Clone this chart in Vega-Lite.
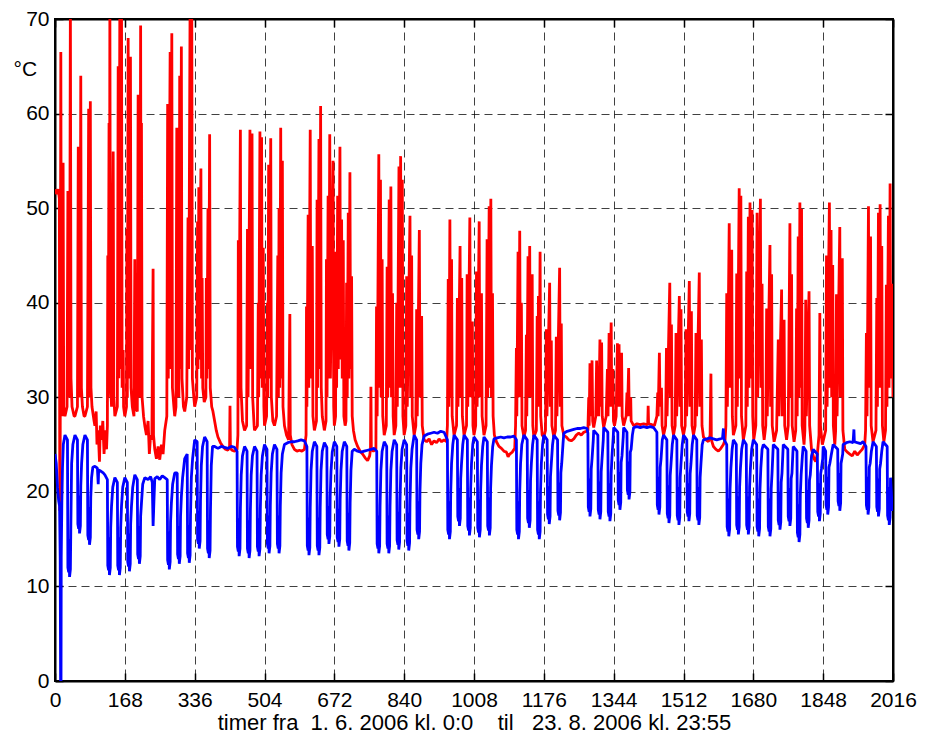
{
"$schema": "https://vega.github.io/schema/vega-lite/v6.json",
"width": 838, "height": 662,
"autosize": {"type": "none"},
"padding": {"left": 55, "top": 19, "right": 35, "bottom": 57},
"background": "white",
"config": {"view": {"stroke": "black", "strokeWidth": 2}, "font": "Liberation Sans"},
"datasets": {
"red": [
{"t":0,"v":52},{"t":4,"v":51.5},{"t":8,"v":52},{"t":10.5,"v":51},{"t":11.5,"v":18},{"t":12.5,"v":24},{"t":14,"v":66.5},{"t":15.5,"v":30},{"t":17,"v":28},{"t":19.5,"v":54.8},{"t":21,"v":29},{"t":24,"v":28},
{"t":29,"v":29},{"t":31,"v":51.8},{"t":32.5,"v":31},{"t":35,"v":30},{"t":37,"v":72},{"t":38.5,"v":32},{"t":41,"v":29},{"t":46,"v":28},
{"t":48,"v":28},{"t":54,"v":29},{"t":56,"v":56.5},{"t":57.5,"v":31},{"t":60,"v":30},{"t":62,"v":64},{"t":63.5,"v":31},{"t":66,"v":29},{"t":70,"v":28},
{"t":72,"v":28},{"t":78,"v":29},{"t":81,"v":60.5},{"t":82.5,"v":32},{"t":84,"v":30},{"t":85,"v":61.3},{"t":86.5,"v":31},{"t":89,"v":29},{"t":94,"v":27.5},
{"t":96,"v":27},{"t":99,"v":28.5},{"t":101,"v":25},{"t":104,"v":26.5},{"t":107,"v":23.2},{"t":109,"v":27},{"t":112,"v":25.5},{"t":115,"v":27.5},{"t":118,"v":24},{"t":121,"v":26.5},{"t":124,"v":24.5},
{"t":126,"v":27},{"t":127,"v":45},{"t":128,"v":30},{"t":130,"v":59},{"t":131,"v":33},{"t":132,"v":72},{"t":133.5,"v":32},{"t":136,"v":29},{"t":140,"v":56},{"t":141.5,"v":30},{"t":144,"v":28},
{"t":150,"v":29},{"t":152,"v":65},{"t":153.5,"v":32},{"t":156,"v":72},{"t":157.5,"v":33},{"t":160,"v":72},{"t":161.5,"v":31},{"t":164,"v":35},{"t":165,"v":29},{"t":168,"v":28},
{"t":172,"v":29},{"t":173,"v":47.8},{"t":174,"v":30},{"t":176,"v":68},{"t":177.5,"v":32},{"t":181.5,"v":66},{"t":183,"v":31},{"t":186,"v":29},{"t":190,"v":28},
{"t":192,"v":44.6},{"t":193,"v":29},{"t":198,"v":28.5},{"t":200,"v":62},{"t":201.5,"v":31},{"t":204,"v":30},{"t":206,"v":69.3},{"t":207,"v":38},{"t":208,"v":59},{"t":209.5,"v":30},{"t":213,"v":28},{"t":216,"v":27},
{"t":220,"v":26},{"t":224,"v":27.5},{"t":227,"v":24},{"t":230,"v":26},{"t":233,"v":25.5},{"t":236,"v":43.6},{"t":237,"v":26},{"t":240,"v":24.5},
{"t":244,"v":23.5},{"t":248,"v":24.8},{"t":252,"v":23.4},{"t":256,"v":25},{"t":260,"v":24},{"t":264,"v":26.5},
{"t":269,"v":28},{"t":271,"v":61},{"t":272.5,"v":32},{"t":277,"v":66.5},{"t":278.5,"v":33},{"t":281,"v":68.5},{"t":282.5,"v":31},{"t":286,"v":29},{"t":288,"v":28},
{"t":291,"v":29},{"t":293,"v":58.5},{"t":294.5,"v":32},{"t":298,"v":30},{"t":300,"v":64},{"t":301.5,"v":33},{"t":304,"v":67.1},{"t":305.5,"v":32},{"t":309,"v":29},{"t":312,"v":28.5},
{"t":317,"v":30},{"t":320,"v":49},{"t":321.5,"v":33},{"t":325,"v":72},{"t":326.5,"v":35},{"t":329,"v":72},{"t":330.5,"v":32},{"t":334,"v":30},{"t":336,"v":29},
{"t":341,"v":30},{"t":343,"v":48.6},{"t":344,"v":33},{"t":346,"v":52.2},{"t":347,"v":34},{"t":351,"v":54.2},{"t":352.5,"v":32},{"t":354,"v":42.6},{"t":355.5,"v":31},{"t":359,"v":29.5},
{"t":363,"v":30},{"t":364,"v":42.6},{"t":365.5,"v":32},{"t":368,"v":50},{"t":369.5,"v":33},{"t":372,"v":57.8},{"t":373.5,"v":31},{"t":377,"v":29},{"t":380,"v":28.5},
{"t":384,"v":27.5},{"t":388,"v":26.5},{"t":392,"v":25.8},{"t":398,"v":25.2},{"t":404,"v":24.8},{"t":410,"v":24.5},{"t":416,"v":24.4},{"t":420,"v":24.8},{"t":421,"v":29.1},{"t":422,"v":24.6},{"t":426,"v":24.4},{"t":432,"v":24.3},{"t":438,"v":24.5},
{"t":440,"v":26},{"t":441,"v":46.6},{"t":442,"v":30},{"t":446,"v":58.3},{"t":447.5,"v":31},{"t":451,"v":27.5},{"t":456,"v":26.5},
{"t":461,"v":27},{"t":463,"v":47.8},{"t":464.5,"v":30},{"t":469,"v":58.3},{"t":470.5,"v":33},{"t":474,"v":57.9},{"t":475.5,"v":30},{"t":479,"v":27},{"t":480,"v":26.5},
{"t":487,"v":27},{"t":489,"v":40},{"t":490,"v":30},{"t":493,"v":58.1},{"t":494.5,"v":32},{"t":497,"v":57.5},{"t":498.5,"v":31},{"t":501,"v":45.8},{"t":502.5,"v":29},{"t":504,"v":27},
{"t":509,"v":28},{"t":511,"v":40},{"t":512,"v":30},{"t":514,"v":54.6},{"t":515.5,"v":32},{"t":519,"v":57.4},{"t":520.5,"v":30},{"t":524,"v":27.5},{"t":528,"v":27},
{"t":533,"v":28},{"t":536,"v":45},{"t":537.5,"v":30},{"t":539,"v":50},{"t":540.5,"v":31},{"t":543,"v":58.5},{"t":544.5,"v":32},{"t":547,"v":55},{"t":548.5,"v":29},{"t":552,"v":27},
{"t":557,"v":26},{"t":562,"v":25.5},{"t":565,"v":38.8},{"t":566,"v":26},{"t":570,"v":25},{"t":576,"v":24.5},
{"t":582,"v":24.3},{"t":588,"v":24.4},{"t":594,"v":24.3},{"t":600,"v":24.5},
{"t":604,"v":26},{"t":605,"v":39.6},{"t":606,"v":29},{"t":609,"v":49.3},{"t":610.5,"v":31},{"t":614,"v":58.3},{"t":615.5,"v":32},{"t":619,"v":46},{"t":620.5,"v":28},{"t":624,"v":26.5},
{"t":629,"v":27.5},{"t":630.5,"v":50.9},{"t":632,"v":31},{"t":635,"v":57.3},{"t":636.5,"v":33},{"t":639,"v":60.8},{"t":640.5,"v":31},{"t":643,"v":28},{"t":648,"v":26.5},
{"t":652,"v":27.5},{"t":653,"v":44.6},{"t":654.5,"v":30},{"t":657,"v":51.3},{"t":658.5,"v":32},{"t":661,"v":57.8},{"t":662.5,"v":32},{"t":669,"v":55},{"t":670.5,"v":29},{"t":672,"v":27},
{"t":675,"v":28},{"t":676,"v":45.4},{"t":677.5,"v":31},{"t":680,"v":51.3},{"t":681.5,"v":33},{"t":685.5,"v":56.5},{"t":687,"v":34},{"t":689.5,"v":48.8},{"t":691,"v":32},{"t":693.5,"v":46.6},{"t":695,"v":28},{"t":698,"v":27},
{"t":700,"v":27.5},{"t":701.5,"v":42.1},{"t":703,"v":30},{"t":705.5,"v":49.5},{"t":707,"v":32},{"t":709.5,"v":53.8},{"t":711,"v":33},{"t":713.5,"v":42.8},{"t":715,"v":28},{"t":718,"v":26.5},
{"t":722,"v":25.5},{"t":728,"v":24.8},{"t":734,"v":24.3},{"t":740,"v":24},{"t":746,"v":23.6},{"t":752,"v":23.3},{"t":757,"v":23.8},{"t":759,"v":24.5},{"t":760,"v":31.1},{"t":761,"v":24.5},{"t":766,"v":24.3},{"t":772,"v":24.5},
{"t":773.5,"v":39.6},{"t":775,"v":28},{"t":779,"v":55.7},{"t":780.5,"v":31},{"t":783,"v":53},{"t":784.5,"v":30},{"t":787,"v":44.6},{"t":788.5,"v":28},{"t":792,"v":26},
{"t":797,"v":27},{"t":799,"v":43.8},{"t":800.5,"v":30},{"t":804,"v":50.9},{"t":805.5,"v":31},{"t":808,"v":52.3},{"t":809.5,"v":30},{"t":812,"v":41},{"t":813.5,"v":28},{"t":816,"v":26},
{"t":820,"v":27},{"t":822,"v":40},{"t":823.5,"v":29},{"t":827.5,"v":54.4},{"t":829,"v":31},{"t":831.5,"v":55.5},{"t":833,"v":31},{"t":835.5,"v":53},{"t":837,"v":28},{"t":840,"v":26},
{"t":844,"v":27},{"t":846,"v":42.8},{"t":847.5,"v":29},{"t":854,"v":49.2},{"t":855.5,"v":30},{"t":858,"v":45},{"t":859.5,"v":28},{"t":864,"v":26},
{"t":868,"v":27},{"t":870,"v":39.3},{"t":871.5,"v":28},{"t":876.5,"v":47.7},{"t":878,"v":30},{"t":882,"v":38.6},{"t":883.5,"v":27},{"t":888,"v":25.5},
{"t":894,"v":25.3},{"t":900,"v":25.6},{"t":906,"v":25},{"t":912,"v":25.4},{"t":918,"v":25.2},{"t":924,"v":25.6},{"t":930,"v":25.3},{"t":936,"v":25.5},{"t":942,"v":25.3},
{"t":944,"v":27},{"t":946,"v":42.5},{"t":947.5,"v":29},{"t":950,"v":48.8},{"t":951.5,"v":30},{"t":954,"v":44.6},{"t":955.5,"v":28},{"t":960,"v":26},
{"t":966,"v":27},{"t":968,"v":40.5},{"t":969.5,"v":29},{"t":974.5,"v":46},{"t":976,"v":30},{"t":978.5,"v":42.6},{"t":980,"v":28},{"t":984,"v":26},
{"t":990,"v":27},{"t":991.5,"v":43},{"t":993,"v":29},{"t":998,"v":49},{"t":999.5,"v":30},{"t":1004,"v":38},{"t":1005.5,"v":27},{"t":1008,"v":26},
{"t":1012,"v":27},{"t":1014,"v":43.3},{"t":1015.5,"v":29},{"t":1020.5,"v":48.6},{"t":1022,"v":30},{"t":1026,"v":41},{"t":1027.5,"v":28},{"t":1032,"v":26},
{"t":1037,"v":27},{"t":1039.5,"v":46.7},{"t":1041,"v":30},{"t":1044.5,"v":50.2},{"t":1046,"v":31},{"t":1048.5,"v":51},{"t":1050,"v":30},{"t":1052.5,"v":41},{"t":1054,"v":28},{"t":1057,"v":26},
{"t":1062,"v":25.3},{"t":1068,"v":24.8},{"t":1074,"v":24.6},{"t":1080,"v":24.3},{"t":1086,"v":24.2},{"t":1090,"v":23.7},{"t":1094,"v":24},{"t":1100,"v":24.2},{"t":1106,"v":24.6},
{"t":1108,"v":27},{"t":1110,"v":35.2},{"t":1111,"v":28},{"t":1114,"v":45.4},{"t":1115.5,"v":30},{"t":1118,"v":47.6},{"t":1119.5,"v":30},{"t":1122,"v":40},{"t":1123.5,"v":27},{"t":1128,"v":25.8},
{"t":1132,"v":26.5},{"t":1134,"v":36.6},{"t":1135,"v":28},{"t":1138,"v":44.9},{"t":1139.5,"v":30},{"t":1142,"v":46},{"t":1143.5,"v":30},{"t":1148,"v":43},{"t":1149.5,"v":27},{"t":1152,"v":25.8},
{"t":1158,"v":26.5},{"t":1160,"v":38.6},{"t":1161.5,"v":29},{"t":1163,"v":40.7},{"t":1164.5,"v":29},{"t":1167,"v":45.4},{"t":1168.5,"v":28},{"t":1172,"v":26},{"t":1176,"v":25.8},
{"t":1180,"v":26.5},{"t":1182,"v":37.2},{"t":1183.5,"v":28},{"t":1190,"v":42.1},{"t":1191.5,"v":29},{"t":1194,"v":36},{"t":1195.5,"v":27},{"t":1200,"v":25.8},
{"t":1204,"v":26.5},{"t":1206,"v":36.4},{"t":1207.5,"v":28},{"t":1214,"v":43.7},{"t":1215.5,"v":29},{"t":1218,"v":37.8},{"t":1219.5,"v":27},{"t":1224,"v":26},
{"t":1230,"v":25.8},{"t":1236,"v":25.5},{"t":1242,"v":25.4},{"t":1248,"v":25.6},{"t":1254,"v":26},{"t":1260,"v":26.2},{"t":1266,"v":26},{"t":1272,"v":26.3},{"t":1278,"v":26.4},{"t":1282,"v":26.5},
{"t":1284,"v":30},{"t":1285,"v":27},{"t":1287,"v":33.6},{"t":1288.5,"v":28},{"t":1292,"v":33.9},{"t":1293.5,"v":27.5},{"t":1296,"v":26.8},
{"t":1301,"v":28},{"t":1303,"v":33.9},{"t":1304.5,"v":28},{"t":1307,"v":30.5},{"t":1308,"v":28},{"t":1311,"v":36.1},{"t":1312.5,"v":29},{"t":1315,"v":35.8},{"t":1316.5,"v":28},{"t":1320,"v":26.8},
{"t":1326,"v":28},{"t":1329,"v":33},{"t":1330.5,"v":28},{"t":1333,"v":36.8},{"t":1334.5,"v":29},{"t":1338,"v":37.9},{"t":1339.5,"v":29},{"t":1342,"v":33},{"t":1343.5,"v":27.5},{"t":1346,"v":27},
{"t":1350,"v":28},{"t":1353,"v":35.7},{"t":1354.5,"v":29},{"t":1357,"v":35.6},{"t":1358.5,"v":29},{"t":1363,"v":34.7},{"t":1364.5,"v":28},{"t":1368,"v":27},
{"t":1374,"v":28},{"t":1376,"v":30.5},{"t":1377,"v":28},{"t":1380,"v":33.1},{"t":1381.5,"v":28},{"t":1385,"v":30},{"t":1386,"v":27.5},{"t":1392,"v":27},
{"t":1400,"v":27.2},{"t":1408,"v":27.1},{"t":1416,"v":27.2},{"t":1424,"v":27.1},{"t":1426,"v":27.2},{"t":1427,"v":29.1},{"t":1428,"v":27.2},{"t":1436,"v":27.1},{"t":1442,"v":27},
{"t":1448,"v":28},{"t":1450,"v":30.5},{"t":1451,"v":28},{"t":1454,"v":34.7},{"t":1455.5,"v":29},{"t":1459,"v":31},{"t":1460.5,"v":27},{"t":1464,"v":26},
{"t":1469,"v":27},{"t":1471,"v":35.2},{"t":1472.5,"v":28},{"t":1479,"v":42.1},{"t":1480.5,"v":30},{"t":1483,"v":37.7},{"t":1484.5,"v":27},{"t":1488,"v":26},
{"t":1492,"v":27},{"t":1494,"v":36.8},{"t":1495.5,"v":28},{"t":1502,"v":40.7},{"t":1503.5,"v":29},{"t":1506,"v":39.3},{"t":1507.5,"v":27},{"t":1512,"v":26},
{"t":1516,"v":27},{"t":1518,"v":37.2},{"t":1519.5,"v":28},{"t":1526,"v":42.3},{"t":1527.5,"v":29},{"t":1531,"v":39.1},{"t":1532.5,"v":27},{"t":1536,"v":26},
{"t":1540,"v":27},{"t":1542,"v":36.8},{"t":1543.5,"v":28},{"t":1550,"v":43.2},{"t":1551.5,"v":29},{"t":1555,"v":36.1},{"t":1556.5,"v":27},{"t":1560,"v":25.8},
{"t":1566,"v":25.5},{"t":1572,"v":25.3},{"t":1576,"v":26},{"t":1578,"v":32.5},{"t":1579,"v":25.5},{"t":1584,"v":24.8},{"t":1590,"v":24.5},{"t":1596,"v":24.3},{"t":1602,"v":24.6},{"t":1608,"v":25},{"t":1612,"v":25.5},
{"t":1614,"v":27},{"t":1616,"v":41},{"t":1617.5,"v":29},{"t":1622,"v":48.4},{"t":1623.5,"v":31},{"t":1628,"v":45.6},{"t":1629.5,"v":28},{"t":1632,"v":26},
{"t":1638,"v":27},{"t":1640,"v":43.1},{"t":1641.5,"v":29},{"t":1646,"v":52.1},{"t":1647.5,"v":32},{"t":1650,"v":51.3},{"t":1651.5,"v":28},{"t":1656,"v":25.5},
{"t":1662,"v":27},{"t":1664,"v":43.3},{"t":1665.5,"v":29},{"t":1668,"v":49.1},{"t":1669.5,"v":31},{"t":1672,"v":50.6},{"t":1673.5,"v":32},{"t":1677,"v":49.8},{"t":1678.5,"v":28},{"t":1681,"v":25.5},
{"t":1686,"v":27},{"t":1689,"v":49.5},{"t":1690.5,"v":30},{"t":1697,"v":51},{"t":1698.5,"v":31},{"t":1701,"v":42},{"t":1702.5,"v":27},{"t":1706,"v":25.5},
{"t":1710,"v":27},{"t":1712,"v":39.4},{"t":1713.5,"v":28},{"t":1720,"v":46.1},{"t":1721.5,"v":29},{"t":1724,"v":43},{"t":1725.5,"v":27},{"t":1730,"v":25.3},
{"t":1736,"v":26.5},{"t":1740,"v":36.1},{"t":1741.5,"v":28},{"t":1748,"v":41.4},{"t":1749.5,"v":28},{"t":1754,"v":38.2},{"t":1755.5,"v":27},{"t":1760,"v":25.5},
{"t":1764,"v":27},{"t":1768,"v":48.4},{"t":1769.5,"v":30},{"t":1772,"v":43},{"t":1773.5,"v":27},{"t":1778,"v":25.3},
{"t":1782,"v":26.5},{"t":1784,"v":39.4},{"t":1785.5,"v":28},{"t":1788,"v":47},{"t":1789.5,"v":30},{"t":1792,"v":50.6},{"t":1793.5,"v":31},{"t":1796,"v":49.9},{"t":1797.5,"v":27},{"t":1802,"v":25},
{"t":1804,"v":26.5},{"t":1806,"v":40.3},{"t":1807.5,"v":28},{"t":1814,"v":41.2},{"t":1815.5,"v":27},{"t":1820,"v":24.5},
{"t":1826,"v":23.5},{"t":1830,"v":23.2},{"t":1834,"v":24},{"t":1838,"v":26},{"t":1840,"v":38.9},{"t":1841.5,"v":27},{"t":1846,"v":25},
{"t":1854,"v":26.5},{"t":1856,"v":45},{"t":1857.5,"v":29},{"t":1863,"v":50.6},{"t":1864.5,"v":31},{"t":1867,"v":47.7},{"t":1868.5,"v":30},{"t":1871,"v":44},{"t":1872.5,"v":27},{"t":1876,"v":25},
{"t":1878,"v":26.5},{"t":1880,"v":40.9},{"t":1881.5,"v":28},{"t":1888,"v":48},{"t":1889.5,"v":30},{"t":1894,"v":44.7},{"t":1895.5,"v":26.5},{"t":1900,"v":24.5},
{"t":1906,"v":24.2},{"t":1912,"v":24},{"t":1918,"v":23.8},{"t":1924,"v":24.3},{"t":1930,"v":23.9},{"t":1936,"v":24.2},{"t":1942,"v":24.5},{"t":1948,"v":25},
{"t":1950,"v":26.5},{"t":1952,"v":36.8},{"t":1953.5,"v":28},{"t":1957,"v":50.2},{"t":1958.5,"v":31},{"t":1962,"v":47},{"t":1963.5,"v":27},{"t":1968,"v":25.3},
{"t":1975,"v":26.5},{"t":1977,"v":40.5},{"t":1978.5,"v":29},{"t":1981,"v":49.5},{"t":1982.5,"v":31},{"t":1985,"v":50.4},{"t":1986.5,"v":31},{"t":1989,"v":46},{"t":1990.5,"v":27},{"t":1994,"v":25.3},
{"t":1998,"v":26.5},{"t":2000,"v":41.9},{"t":2001.5,"v":29},{"t":2005,"v":49.2},{"t":2006.5,"v":31},{"t":2009,"v":52.6},{"t":2010.5,"v":32},{"t":2014,"v":42},{"t":2016,"v":30}
],
"blue": [
{"t":0,"v":24},{"t":3,"v":23},{"t":6,"v":20.5},{"t":9,"v":19},{"t":11,"v":18.5},{"t":12.5,"v":13},{"t":13.5,"v":0},{"t":14.5,"v":0},{"t":15,"v":13},{"t":16.5,"v":19},{"t":18,"v":22.5},{"t":20,"v":25},{"t":22,"v":25.5},
{"t":24,"v":26},{"t":30,"v":25.5},{"t":31,"v":12},{"t":33,"v":11.5},{"t":34,"v":15},{"t":35,"v":11},{"t":37,"v":11.8},{"t":38,"v":16},{"t":40,"v":23},{"t":43,"v":25},
{"t":48,"v":26},{"t":54,"v":25.5},{"t":55,"v":16.6},{"t":57,"v":16.1},{"t":58,"v":19.6},{"t":59,"v":15.6},{"t":61,"v":16.4},{"t":62,"v":20.6},{"t":64,"v":23},{"t":67,"v":25},
{"t":72,"v":26},{"t":78,"v":25.5},{"t":79,"v":15.4},{"t":81,"v":14.9},{"t":82,"v":18.4},{"t":83,"v":14.4},{"t":85,"v":15.2},{"t":86,"v":19.4},{"t":88,"v":21.5},{"t":91,"v":22.6},
{"t":96,"v":22.7},{"t":102,"v":22.5},{"t":104,"v":20.8},{"t":105,"v":22.3},{"t":110,"v":22.2},{"t":116,"v":22},{"t":120,"v":21.8},
{"t":126,"v":21.3},{"t":127,"v":12.2},{"t":129,"v":11.7},{"t":130,"v":15.2},{"t":131,"v":11.2},{"t":133,"v":12},{"t":134,"v":16.2},{"t":136,"v":18.5},{"t":139,"v":20.5},
{"t":144,"v":21.5},{"t":150,"v":21},{"t":151,"v":12.2},{"t":153,"v":11.7},{"t":154,"v":15.2},{"t":155,"v":11.2},{"t":157,"v":12},{"t":158,"v":16.2},{"t":160,"v":18.5},{"t":163,"v":20.5},
{"t":168,"v":21.5},{"t":174,"v":21},{"t":175,"v":12.6},{"t":177,"v":12.1},{"t":178,"v":15.6},{"t":179,"v":11.6},{"t":181,"v":12.4},{"t":182,"v":16.6},{"t":184,"v":18.5},{"t":187,"v":20.5},
{"t":192,"v":21.8},{"t":198,"v":21.3},{"t":199,"v":13.4},{"t":201,"v":12.9},{"t":202,"v":16.4},{"t":203,"v":12.4},{"t":205,"v":13.2},{"t":206,"v":17.4},{"t":208,"v":18.8},{"t":211,"v":20.8},
{"t":216,"v":21.5},{"t":224,"v":21.3},{"t":230,"v":21.6},{"t":234,"v":21},{"t":236,"v":16.4},{"t":238,"v":19},{"t":240,"v":21.4},{"t":246,"v":21.6},{"t":252,"v":21.3},{"t":258,"v":21.7},{"t":264,"v":21.5},
{"t":270,"v":21.3},{"t":271,"v":12.8},{"t":273,"v":12.3},{"t":274,"v":15.8},{"t":275,"v":11.8},{"t":277,"v":12.6},{"t":278,"v":16.8},{"t":280,"v":18.8},{"t":283,"v":20.8},
{"t":288,"v":22},{"t":294,"v":22},{"t":295,"v":13.4},{"t":297,"v":12.9},{"t":298,"v":16.4},{"t":299,"v":12.4},{"t":301,"v":13.2},{"t":302,"v":17.4},{"t":304,"v":19.5},{"t":307,"v":21.5},
{"t":312,"v":23.5},{"t":318,"v":24},{"t":319,"v":13.5},{"t":321,"v":13},{"t":322,"v":16.5},{"t":323,"v":12.5},{"t":325,"v":13.3},{"t":326,"v":17.5},{"t":328,"v":21.5},{"t":331,"v":23.5},
{"t":336,"v":25.5},{"t":342,"v":25.3},{"t":343,"v":15},{"t":345,"v":14.5},{"t":346,"v":18},{"t":347,"v":14},{"t":349,"v":14.8},{"t":350,"v":19},{"t":352,"v":22.8},{"t":355,"v":24.8},
{"t":360,"v":25.8},{"t":366,"v":25.3},{"t":367,"v":14},{"t":369,"v":13.5},{"t":370,"v":17},{"t":371,"v":13},{"t":373,"v":13.8},{"t":374,"v":18},{"t":376,"v":22.8},{"t":379,"v":24.8},
{"t":384,"v":24.8},{"t":392,"v":24.6},{"t":400,"v":24.8},{"t":408,"v":24.7},{"t":416,"v":24.6},{"t":424,"v":24.8},{"t":432,"v":24.7},
{"t":438,"v":24.3},{"t":439,"v":14.2},{"t":441,"v":13.7},{"t":442,"v":17.2},{"t":443,"v":13.2},{"t":445,"v":14},{"t":446,"v":18.2},{"t":448,"v":21.8},{"t":451,"v":23.8},
{"t":456,"v":24.8},{"t":462,"v":24.3},{"t":463,"v":14},{"t":465,"v":13.5},{"t":466,"v":17},{"t":467,"v":13},{"t":469,"v":13.8},{"t":470,"v":18},{"t":472,"v":21.8},{"t":475,"v":23.8},
{"t":480,"v":24.8},{"t":486,"v":24.3},{"t":487,"v":14.2},{"t":489,"v":13.7},{"t":490,"v":17.2},{"t":491,"v":13.2},{"t":493,"v":14},{"t":494,"v":18.2},{"t":496,"v":21.8},{"t":499,"v":23.8},
{"t":504,"v":25},{"t":510,"v":24.5},{"t":511,"v":14.5},{"t":513,"v":14},{"t":514,"v":17.5},{"t":515,"v":13.5},{"t":517,"v":14.3},{"t":518,"v":18.5},{"t":520,"v":22},{"t":523,"v":24},
{"t":528,"v":25},{"t":534,"v":24.5},{"t":535,"v":14.5},{"t":537,"v":14},{"t":538,"v":17.5},{"t":539,"v":13.5},{"t":541,"v":14.3},{"t":542,"v":18.5},{"t":544,"v":22},{"t":547,"v":24},
{"t":552,"v":25},{"t":560,"v":25.2},{"t":568,"v":25.3},{"t":576,"v":25.3},{"t":584,"v":25.4},{"t":592,"v":25.5},{"t":600,"v":25.4},
{"t":606,"v":24.8},{"t":607,"v":14.3},{"t":609,"v":13.8},{"t":610,"v":17.3},{"t":611,"v":13.3},{"t":613,"v":14.1},{"t":614,"v":18.3},{"t":616,"v":22.3},{"t":619,"v":24.3},
{"t":624,"v":25.3},{"t":630,"v":24.8},{"t":631,"v":14.3},{"t":633,"v":13.8},{"t":634,"v":17.3},{"t":635,"v":13.3},{"t":637,"v":14.1},{"t":638,"v":18.3},{"t":640,"v":22.3},{"t":643,"v":24.3},
{"t":648,"v":25.2},{"t":654,"v":24.7},{"t":655,"v":15.5},{"t":657,"v":15},{"t":658,"v":18.5},{"t":659,"v":14.5},{"t":661,"v":15.3},{"t":662,"v":19.5},{"t":664,"v":22.2},{"t":667,"v":24.2},
{"t":672,"v":25.3},{"t":678,"v":24.8},{"t":679,"v":15.2},{"t":681,"v":14.7},{"t":682,"v":18.2},{"t":683,"v":14.2},{"t":685,"v":15},{"t":686,"v":19.2},{"t":688,"v":22.3},{"t":691,"v":24.3},
{"t":696,"v":25.3},{"t":702,"v":24.8},{"t":703,"v":14.8},{"t":705,"v":14.3},{"t":706,"v":17.8},{"t":707,"v":13.8},{"t":709,"v":14.6},{"t":710,"v":18.8},{"t":712,"v":22.3},{"t":715,"v":24.3},
{"t":720,"v":24.5},{"t":728,"v":24.3},{"t":736,"v":24.2},{"t":744,"v":24.3},{"t":752,"v":24.4},{"t":760,"v":24.5},{"t":768,"v":24.6},
{"t":774,"v":24.3},{"t":775,"v":14.5},{"t":777,"v":14},{"t":778,"v":17.5},{"t":779,"v":13.5},{"t":781,"v":14.3},{"t":782,"v":18.5},{"t":784,"v":22.3},{"t":787,"v":24.3},
{"t":792,"v":25.3},{"t":798,"v":24.8},{"t":799,"v":14.5},{"t":801,"v":14},{"t":802,"v":17.5},{"t":803,"v":13.5},{"t":805,"v":14.3},{"t":806,"v":18.5},{"t":808,"v":22.3},{"t":811,"v":24.3},
{"t":816,"v":25.5},{"t":822,"v":25},{"t":823,"v":14.9},{"t":825,"v":14.4},{"t":826,"v":17.9},{"t":827,"v":13.9},{"t":829,"v":14.7},{"t":830,"v":18.9},{"t":832,"v":22.5},{"t":835,"v":24.5},
{"t":840,"v":25.5},{"t":846,"v":25},{"t":847,"v":14.8},{"t":849,"v":14.3},{"t":850,"v":17.8},{"t":851,"v":13.8},{"t":853,"v":14.6},{"t":854,"v":18.8},{"t":856,"v":22.5},{"t":859,"v":24.5},
{"t":864,"v":26},{"t":870,"v":25.5},{"t":871,"v":16},{"t":873,"v":15.5},{"t":874,"v":19},{"t":875,"v":15},{"t":877,"v":15.8},{"t":878,"v":20},{"t":880,"v":23},{"t":883,"v":25},
{"t":888,"v":25.9},{"t":896,"v":26.1},{"t":904,"v":26.2},{"t":912,"v":26.3},{"t":920,"v":26.2},{"t":928,"v":26.4},{"t":936,"v":26.3},
{"t":944,"v":25.5},{"t":945,"v":16},{"t":947,"v":15.5},{"t":948,"v":19},{"t":949,"v":15},{"t":951,"v":15.8},{"t":952,"v":20},{"t":954,"v":23},{"t":957,"v":25},
{"t":960,"v":26},{"t":968,"v":25.5},{"t":969,"v":17.4},{"t":971,"v":16.9},{"t":972,"v":20.4},{"t":973,"v":16.4},{"t":975,"v":17.2},{"t":976,"v":21.4},{"t":978,"v":23},{"t":981,"v":25},
{"t":984,"v":26},{"t":992,"v":25.5},{"t":993,"v":16.4},{"t":995,"v":15.9},{"t":996,"v":19.4},{"t":997,"v":15.4},{"t":999,"v":16.2},{"t":1000,"v":20.4},{"t":1002,"v":23},{"t":1005,"v":25},
{"t":1008,"v":25.8},{"t":1016,"v":25.3},{"t":1017,"v":16.2},{"t":1019,"v":15.7},{"t":1020,"v":19.2},{"t":1021,"v":15.2},{"t":1023,"v":16},{"t":1024,"v":20.2},{"t":1026,"v":22.8},{"t":1029,"v":24.8},
{"t":1032,"v":25.8},{"t":1040,"v":25.3},{"t":1041,"v":16.4},{"t":1043,"v":15.9},{"t":1044,"v":19.4},{"t":1045,"v":15.4},{"t":1047,"v":16.2},{"t":1048,"v":20.4},{"t":1050,"v":22.8},{"t":1053,"v":24.8},
{"t":1056,"v":25.6},{"t":1064,"v":25.7},{"t":1072,"v":25.8},{"t":1080,"v":25.7},{"t":1088,"v":25.8},{"t":1096,"v":25.8},{"t":1104,"v":25.9},
{"t":1110,"v":25.5},{"t":1111,"v":16},{"t":1113,"v":15.5},{"t":1114,"v":19},{"t":1115,"v":15},{"t":1117,"v":15.8},{"t":1118,"v":20},{"t":1120,"v":23},{"t":1123,"v":25},
{"t":1128,"v":26},{"t":1136,"v":25.5},{"t":1137,"v":17.2},{"t":1139,"v":16.7},{"t":1140,"v":20.2},{"t":1141,"v":16.2},{"t":1143,"v":17},{"t":1144,"v":21.2},{"t":1146,"v":23},{"t":1149,"v":25},
{"t":1152,"v":26},{"t":1160,"v":25.5},{"t":1161,"v":16},{"t":1163,"v":15.5},{"t":1164,"v":19},{"t":1165,"v":15},{"t":1167,"v":15.8},{"t":1168,"v":20},{"t":1170,"v":23},{"t":1173,"v":25},
{"t":1176,"v":26},{"t":1184,"v":25.5},{"t":1185,"v":17.6},{"t":1187,"v":17.1},{"t":1188,"v":20.6},{"t":1189,"v":16.6},{"t":1191,"v":17.4},{"t":1192,"v":21.6},{"t":1194,"v":23},{"t":1197,"v":25},
{"t":1200,"v":26},{"t":1209,"v":25.5},{"t":1210,"v":18},{"t":1212,"v":17.5},{"t":1213,"v":21},{"t":1214,"v":17},{"t":1216,"v":17.8},{"t":1217,"v":22},{"t":1219,"v":23},{"t":1222,"v":25},
{"t":1224,"v":26.2},{"t":1232,"v":26.4},{"t":1240,"v":26.5},{"t":1248,"v":26.6},{"t":1256,"v":26.7},{"t":1264,"v":26.7},{"t":1272,"v":26.8},{"t":1280,"v":26.7},
{"t":1282,"v":26.2},{"t":1283,"v":18.4},{"t":1285,"v":17.9},{"t":1286,"v":21.4},{"t":1287,"v":17.4},{"t":1289,"v":18.2},{"t":1290,"v":22.4},{"t":1292,"v":23.5},{"t":1295,"v":25.5},
{"t":1296,"v":26.5},{"t":1306,"v":26},{"t":1307,"v":18.1},{"t":1309,"v":17.6},{"t":1310,"v":21.1},{"t":1311,"v":17.1},{"t":1313,"v":17.9},{"t":1314,"v":22.1},{"t":1316,"v":23.5},{"t":1319,"v":25.5},
{"t":1320,"v":26.8},{"t":1330,"v":26.3},{"t":1331,"v":17.9},{"t":1333,"v":17.4},{"t":1334,"v":20.9},{"t":1335,"v":16.9},{"t":1337,"v":17.7},{"t":1338,"v":21.9},{"t":1340,"v":23.8},{"t":1343,"v":25.8},
{"t":1344,"v":26.8},{"t":1354,"v":26.3},{"t":1355,"v":19.1},{"t":1357,"v":18.6},{"t":1358,"v":22.1},{"t":1359,"v":18.1},{"t":1361,"v":18.9},{"t":1362,"v":23.1},{"t":1364,"v":23.8},{"t":1367,"v":25.8},
{"t":1368,"v":26.8},{"t":1376,"v":26.3},{"t":1377,"v":20.2},{"t":1379,"v":19.7},{"t":1380,"v":23.2},{"t":1381,"v":19.2},{"t":1383,"v":20},{"t":1384,"v":24.2},{"t":1386,"v":24.5},{"t":1389,"v":26},
{"t":1392,"v":26.8},{"t":1400,"v":26.9},{"t":1408,"v":26.8},{"t":1416,"v":26.9},{"t":1424,"v":26.8},{"t":1432,"v":26.9},{"t":1440,"v":26.8},
{"t":1448,"v":26.3},{"t":1449,"v":18.6},{"t":1451,"v":18.1},{"t":1452,"v":21.6},{"t":1453,"v":17.6},{"t":1455,"v":18.4},{"t":1456,"v":22.6},{"t":1458,"v":23.5},{"t":1461,"v":25.5},
{"t":1464,"v":26},{"t":1472,"v":25.5},{"t":1473,"v":17.7},{"t":1475,"v":17.2},{"t":1476,"v":20.7},{"t":1477,"v":16.7},{"t":1479,"v":17.5},{"t":1480,"v":21.7},{"t":1482,"v":23},{"t":1485,"v":25},
{"t":1488,"v":26},{"t":1496,"v":25.5},{"t":1497,"v":17.5},{"t":1499,"v":17},{"t":1500,"v":20.5},{"t":1501,"v":16.5},{"t":1503,"v":17.3},{"t":1504,"v":21.5},{"t":1506,"v":23},{"t":1509,"v":25},
{"t":1512,"v":26},{"t":1520,"v":25.5},{"t":1521,"v":17.9},{"t":1523,"v":17.4},{"t":1524,"v":20.9},{"t":1525,"v":16.9},{"t":1527,"v":17.7},{"t":1528,"v":21.9},{"t":1530,"v":23},{"t":1533,"v":25},
{"t":1536,"v":26},{"t":1544,"v":25.5},{"t":1545,"v":17.5},{"t":1547,"v":17},{"t":1548,"v":20.5},{"t":1549,"v":16.5},{"t":1551,"v":17.3},{"t":1552,"v":21.5},{"t":1554,"v":23},{"t":1557,"v":25},
{"t":1560,"v":25.5},{"t":1568,"v":25.6},{"t":1576,"v":25.7},{"t":1584,"v":25.6},{"t":1592,"v":25.5},{"t":1600,"v":25.6},{"t":1606,"v":25.7},{"t":1608,"v":26.7},{"t":1609,"v":25.6},
{"t":1616,"v":25},{"t":1617,"v":16.3},{"t":1619,"v":15.8},{"t":1620,"v":19.3},{"t":1621,"v":15.3},{"t":1623,"v":16.1},{"t":1624,"v":20.3},{"t":1626,"v":22.5},{"t":1629,"v":24.5},
{"t":1632,"v":25.5},{"t":1639,"v":25},{"t":1640,"v":16.5},{"t":1642,"v":16},{"t":1643,"v":19.5},{"t":1644,"v":15.5},{"t":1646,"v":16.3},{"t":1647,"v":20.5},{"t":1649,"v":22.5},{"t":1652,"v":24.5},
{"t":1656,"v":25.5},{"t":1663,"v":25},{"t":1664,"v":16.5},{"t":1666,"v":16},{"t":1667,"v":19.5},{"t":1668,"v":15.5},{"t":1670,"v":16.3},{"t":1671,"v":20.5},{"t":1673,"v":22.5},{"t":1676,"v":24.5},
{"t":1680,"v":25.5},{"t":1688,"v":25},{"t":1689,"v":16.3},{"t":1691,"v":15.8},{"t":1692,"v":19.3},{"t":1693,"v":15.3},{"t":1695,"v":16.1},{"t":1696,"v":20.3},{"t":1698,"v":22.5},{"t":1701,"v":24.5},
{"t":1704,"v":25},{"t":1715,"v":24.5},{"t":1716,"v":16.3},{"t":1718,"v":15.8},{"t":1719,"v":19.3},{"t":1720,"v":15.3},{"t":1722,"v":16.1},{"t":1723,"v":20.3},{"t":1725,"v":22},{"t":1727,"v":24},
{"t":1728,"v":25},{"t":1739,"v":24.5},{"t":1740,"v":17},{"t":1742,"v":16.5},{"t":1743,"v":20},{"t":1744,"v":16},{"t":1746,"v":16.8},{"t":1747,"v":21},{"t":1749,"v":22},{"t":1751,"v":24},
{"t":1752,"v":25},{"t":1763,"v":24.5},{"t":1764,"v":17.4},{"t":1766,"v":16.9},{"t":1767,"v":20.4},{"t":1768,"v":16.4},{"t":1770,"v":17.2},{"t":1771,"v":21.4},{"t":1773,"v":22},{"t":1775,"v":24},
{"t":1776,"v":24.8},{"t":1785,"v":24.3},{"t":1786,"v":15.7},{"t":1788,"v":15.2},{"t":1789,"v":18.7},{"t":1790,"v":14.7},{"t":1792,"v":15.5},{"t":1793,"v":19.7},{"t":1795,"v":21.8},{"t":1798,"v":23.8},
{"t":1800,"v":24.8},{"t":1807,"v":24.3},{"t":1808,"v":17.2},{"t":1810,"v":16.7},{"t":1811,"v":20.2},{"t":1812,"v":16.2},{"t":1814,"v":17},{"t":1815,"v":21.2},{"t":1817,"v":21.8},{"t":1820,"v":23.8},
{"t":1824,"v":24.5},{"t":1834,"v":24},{"t":1835,"v":17.9},{"t":1837,"v":17.4},{"t":1838,"v":20.9},{"t":1839,"v":16.9},{"t":1841,"v":17.7},{"t":1842,"v":21.9},{"t":1844,"v":22.5},{"t":1847,"v":23.5},
{"t":1848,"v":24.8},{"t":1854,"v":24.3},{"t":1855,"v":18.6},{"t":1857,"v":18.1},{"t":1858,"v":21.6},{"t":1859,"v":17.6},{"t":1861,"v":18.4},{"t":1862,"v":22.6},{"t":1864,"v":23},{"t":1867,"v":23.8},
{"t":1872,"v":25},{"t":1883,"v":24.5},{"t":1884,"v":19},{"t":1886,"v":18.5},{"t":1887,"v":22},{"t":1888,"v":18},{"t":1890,"v":18.8},{"t":1891,"v":23},{"t":1893,"v":23.5},{"t":1895,"v":24},
{"t":1896,"v":25},{"t":1904,"v":25.2},{"t":1912,"v":25.3},{"t":1920,"v":25.2},{"t":1922,"v":26.6},{"t":1923,"v":25.3},{"t":1930,"v":25.2},{"t":1938,"v":25.1},{"t":1944,"v":25.3},
{"t":1951,"v":24.8},{"t":1952,"v":18.6},{"t":1954,"v":18.1},{"t":1955,"v":21.6},{"t":1956,"v":17.6},{"t":1958,"v":18.4},{"t":1959,"v":22.6},{"t":1961,"v":23},{"t":1964,"v":24.3},
{"t":1968,"v":25.3},{"t":1976,"v":24.8},{"t":1977,"v":18.4},{"t":1979,"v":17.9},{"t":1980,"v":21.4},{"t":1981,"v":17.4},{"t":1983,"v":18.2},{"t":1984,"v":22.4},{"t":1986,"v":23},{"t":1989,"v":24.3},
{"t":1992,"v":25.3},{"t":2002,"v":24.8},{"t":2003,"v":17.5},{"t":2005,"v":17},{"t":2006,"v":20.5},{"t":2007,"v":16.5},{"t":2009,"v":17.3},{"t":2010,"v":21.5},{"t":2012,"v":20},{"t":2014,"v":18},{"t":2016,"v":18.5}
]
},
"layer": [
{
"data": {"name": "red"},
"mark": {"type": "line", "color": "#ff0000", "strokeWidth": 2.8, "strokeJoin": "bevel", "clip": true},
"encoding": {
"x": {"field": "t", "type": "quantitative",
"scale": {"domain": [0, 2016], "nice": false, "zero": false},
"axis": {"orient": "bottom", "values": [0,168,336,504,672,840,1008,1176,1344,1512,1680,1848,2016], "format": "d",
"title": "timer fra\u00a0\u00a01. 6. 2006 kl. 0:0\u00a0\u00a0\u00a0\u00a0til\u00a0\u00a0\u00a023. 8. 2006 kl. 23:55",
"titleFontSize": 22, "titleFontWeight": "normal", "titleColor": "black", "titlePadding": 2,
"labelFontSize": 21, "labelColor": "black", "labelFlush": false, "labelOverlap": false, "labelPadding": 16,
"grid": true, "gridDash": [8, 5], "gridColor": "black", "gridOpacity": 0.75, "gridWidth": 1,
"tickSize": -8, "tickColor": "black", "tickWidth": 1.5,
"domainColor": "black", "domainWidth": 2}},
"y": {"field": "v", "type": "quantitative",
"scale": {"domain": [0, 70], "nice": false},
"axis": {"orient": "left", "values": [0,10,20,30,40,50,60,70],
"title": "°C", "titleAngle": 0, "titleAlign": "left", "titleBaseline": "middle", "titleX": -42, "titleY": 50,
"titleFontSize": 21, "titleFontWeight": "normal", "titleColor": "black",
"labelFontSize": 21, "labelColor": "black", "labelPadding": 14,
"grid": true, "gridDash": [8, 5], "gridColor": "black", "gridOpacity": 0.75, "gridWidth": 1,
"tickSize": -8, "tickColor": "black", "tickWidth": 1.5,
"domainColor": "black", "domainWidth": 2}}
}
},
{
"data": {"name": "blue"},
"mark": {"type": "line", "color": "#0000ff", "strokeWidth": 2.8, "strokeJoin": "bevel", "clip": true},
"encoding": {
"x": {"field": "t", "type": "quantitative",
"axis": {"orient": "top", "values": [0,168,336,504,672,840,1008,1176,1344,1512,1680,1848,2016], "labels": false, "title": null, "grid": false,
"tickSize": -8, "tickColor": "black", "tickWidth": 1.5, "domainColor": "black", "domainWidth": 2}},
"y": {"field": "v", "type": "quantitative",
"axis": {"orient": "right", "values": [0,10,20,30,40,50,60,70], "labels": false, "title": null, "grid": false,
"tickSize": -8, "tickColor": "black", "tickWidth": 1.5, "domainColor": "black", "domainWidth": 2}}
}
}
],
"resolve": {"axis": {"x": "independent", "y": "independent"}}
}
